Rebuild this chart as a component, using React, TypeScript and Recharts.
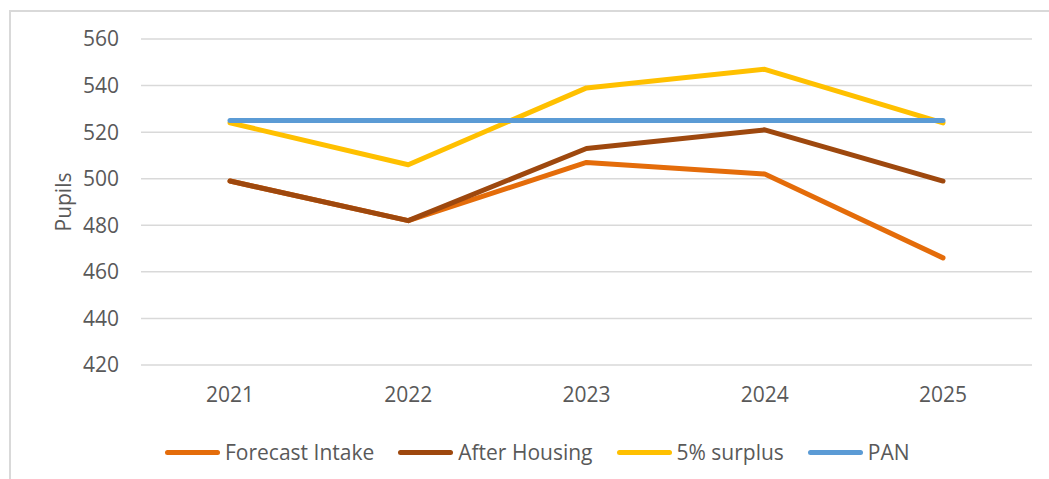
import { LineChart, Line, XAxis, YAxis, CartesianGrid } from 'recharts';

const years = ['2021', '2022', '2023', '2024', '2025'];
const forecastIntake = [499, 482, 507, 502, 466];
const afterHousing = [499, 482, 513, 521, 499];
const surplus5 = [524, 506, 539, 547, 524];
const pan = [525, 525, 525, 525, 525];
const yTicks = [420, 440, 460, 480, 500, 520, 540, 560];

const series = [
  { key: 'forecast', name: 'Forecast Intake', color: '#E46C0A', values: forecastIntake },
  { key: 'housing', name: 'After Housing', color: '#9E480E', values: afterHousing },
  { key: 'surplus', name: '5% surplus', color: '#FFC000', values: surplus5 },
  { key: 'pan', name: 'PAN', color: '#5B9BD5', values: pan },
];

const data = years.map((year, i) => {
  const row: Record<string, string | number> = { year };
  series.forEach((s) => {
    row[s.key] = s.values[i];
  });
  return row;
});

const font = '"Open Sans", "Liberation Sans", sans-serif';
const textColor = '#595959';

export default function App() {
  return (
    <div style={{ position: 'absolute', left: 0, top: 0, width: 1049, height: 479, overflow: 'hidden', background: '#fff', fontFamily: font }}>
      <div
        style={{
          position: 'absolute',
          left: 9,
          top: 10,
          width: 1060,
          height: 500,
          border: '2px solid #d9d9d9',
        }}
      />
      <LineChart
        width={1049}
        height={479}
        data={data}
        margin={{ top: 39, right: 17, bottom: 74, left: 41 }}
        style={{ position: 'absolute', left: 0, top: 0 }}
      >
        <CartesianGrid stroke="#d9d9d9" strokeWidth={1.5} vertical={false} />
        <XAxis
          dataKey="year"
          axisLine={false}
          tickLine={false}
          tickSize={0}
          tickMargin={22}
          height={40}
          padding={{ left: 89, right: 89 }}
          tick={{ fontSize: 21, fill: textColor, fontFamily: font }}
        />
        <YAxis
          domain={[420, 560]}
          ticks={yTicks}
          width={100}
          axisLine={false}
          tickLine={false}
          tickSize={0}
          tickMargin={22}
          tick={{ fontSize: 21, fill: textColor, fontFamily: font }}
          label={{
            value: 'Pupils',
            angle: -90,
            position: 'insideLeft',
            dx: 18,
            style: { fontSize: 21, fill: textColor, fontFamily: font, textAnchor: 'middle' },
          }}
        />
        {series.map((s) => (
          <Line
            key={s.key}
            dataKey={s.key}
            name={s.name}
            stroke={s.color}
            strokeWidth={5}
            strokeLinecap="round"
            strokeLinejoin="round"
            dot={false}
            activeDot={false}
            isAnimationActive={false}
          />
        ))}
      </LineChart>
      <div
        style={{
          position: 'absolute',
          left: 165,
          top: 438,
          display: 'flex',
          alignItems: 'center',
          gap: 24,
          fontSize: 21,
          color: textColor,
          whiteSpace: 'nowrap',
        }}
      >
        {series.map((s) => (
          <div key={s.key} style={{ display: 'flex', alignItems: 'center', gap: 5 }}>
            <span style={{ display: 'inline-block', width: 55, height: 5, borderRadius: 3, background: s.color }} />
            <span>{s.name}</span>
          </div>
        ))}
      </div>
    </div>
  );
}
